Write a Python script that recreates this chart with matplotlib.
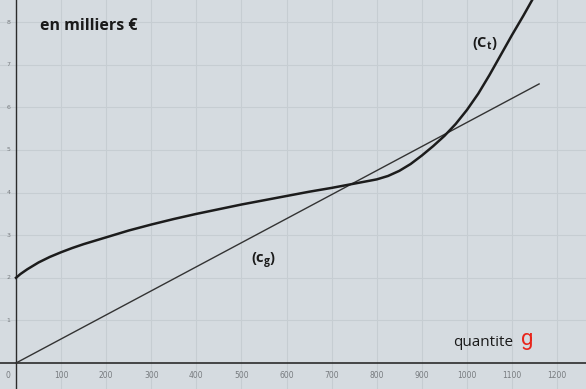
import matplotlib.pyplot as plt

# coût total (en milliers €)
q_ct = [0, 10, 25, 50, 75, 100, 125, 150, 200, 250, 300, 350, 400, 450,
        500, 550, 600, 650, 700, 725, 750, 775, 800, 825, 850, 875, 900,
        925, 950, 975, 1000, 1025, 1050, 1075, 1100, 1125, 1150]
ct = [2.00, 2.09, 2.20, 2.36, 2.49, 2.60, 2.70, 2.79, 2.95, 3.11, 3.25,
      3.38, 3.50, 3.61, 3.72, 3.82, 3.92, 4.02, 4.11, 4.16, 4.21, 4.26,
      4.31, 4.39, 4.51, 4.67, 4.87, 5.09, 5.33, 5.61, 5.94, 6.32, 6.76,
      7.23, 7.70, 8.15, 8.62]

# droite (cg)
q_cg = [0, 1160]
cg = [0, 6.55]

x_ticks = [100, 200, 300, 400, 500, 600, 700, 800, 900, 1000, 1100, 1200]
y_ticks = [1, 2, 3, 4, 5, 6, 7, 8]

bg = '#d5dbe0'
grid_c = '#c6cdd2'
tick_c = '#777b7f'

plt.rcParams['mathtext.fontset'] = 'custom'
plt.rcParams['mathtext.rm'] = 'Open Sans'
plt.rcParams['mathtext.bf'] = 'Open Sans:bold'

fig = plt.figure(figsize=(5.86, 3.89), dpi=100, facecolor=bg)
ax = fig.add_axes([0, 0, 1, 1], facecolor=bg)
ax.set_xlim(-35.5, 1264)
ax.set_ylim(-0.61, 8.52)
for s in ax.spines.values():
    s.set_visible(False)
ax.set_xticks([])
ax.set_yticks([])

# quadrillage
for x in x_ticks:
    ax.axvline(x, color=grid_c, lw=0.8, zorder=0)
for y in y_ticks:
    ax.axhline(y, color=grid_c, lw=0.8, zorder=0)

# axes
ax.axhline(0, color='#2b2b2b', lw=1.2, zorder=2)
ax.axvline(0, color='#2b2b2b', lw=1.0, zorder=2)

for x in x_ticks:
    ax.text(x, -0.3, str(x), fontsize=5.5, color=tick_c, ha='center', va='center')
ax.text(-18, -0.3, '0', fontsize=5.5, color=tick_c, ha='center', va='center')
for y in y_ticks:
    ax.text(-17, y, str(y), fontsize=4.5, color=tick_c, ha='center', va='center')

ax.plot(q_cg, cg, color='#333333', lw=1.0, zorder=3)
ax.plot(q_ct, ct, color='#1c1c1c', lw=1.8, zorder=4, solid_joinstyle='round')

ax.text(53, 7.9, 'en milliers €', fontsize=11.5, fontweight='bold',
        family='Open Sans', color='#1a1a1a', va='center')
ax.text(1012, 7.5, r'(C$_\mathbf{t}$)', fontsize=10.5, fontweight='bold',
        family='Open Sans', color='#1a1a1a', va='center')
ax.text(522, 2.4, r'(c$_\mathbf{g}$)', fontsize=10.5, fontweight='bold',
        family='Open Sans', color='#1a1a1a', va='center')
ax.text(970, 0.47, 'quantite', fontsize=11, family='Open Sans',
        color='#1a1a1a', va='center')
ax.text(1120, 0.55, 'g', fontsize=16, family='Roboto',
        color='#e8251b', va='center')

fig.savefig('out.png', dpi=100, facecolor=bg)
